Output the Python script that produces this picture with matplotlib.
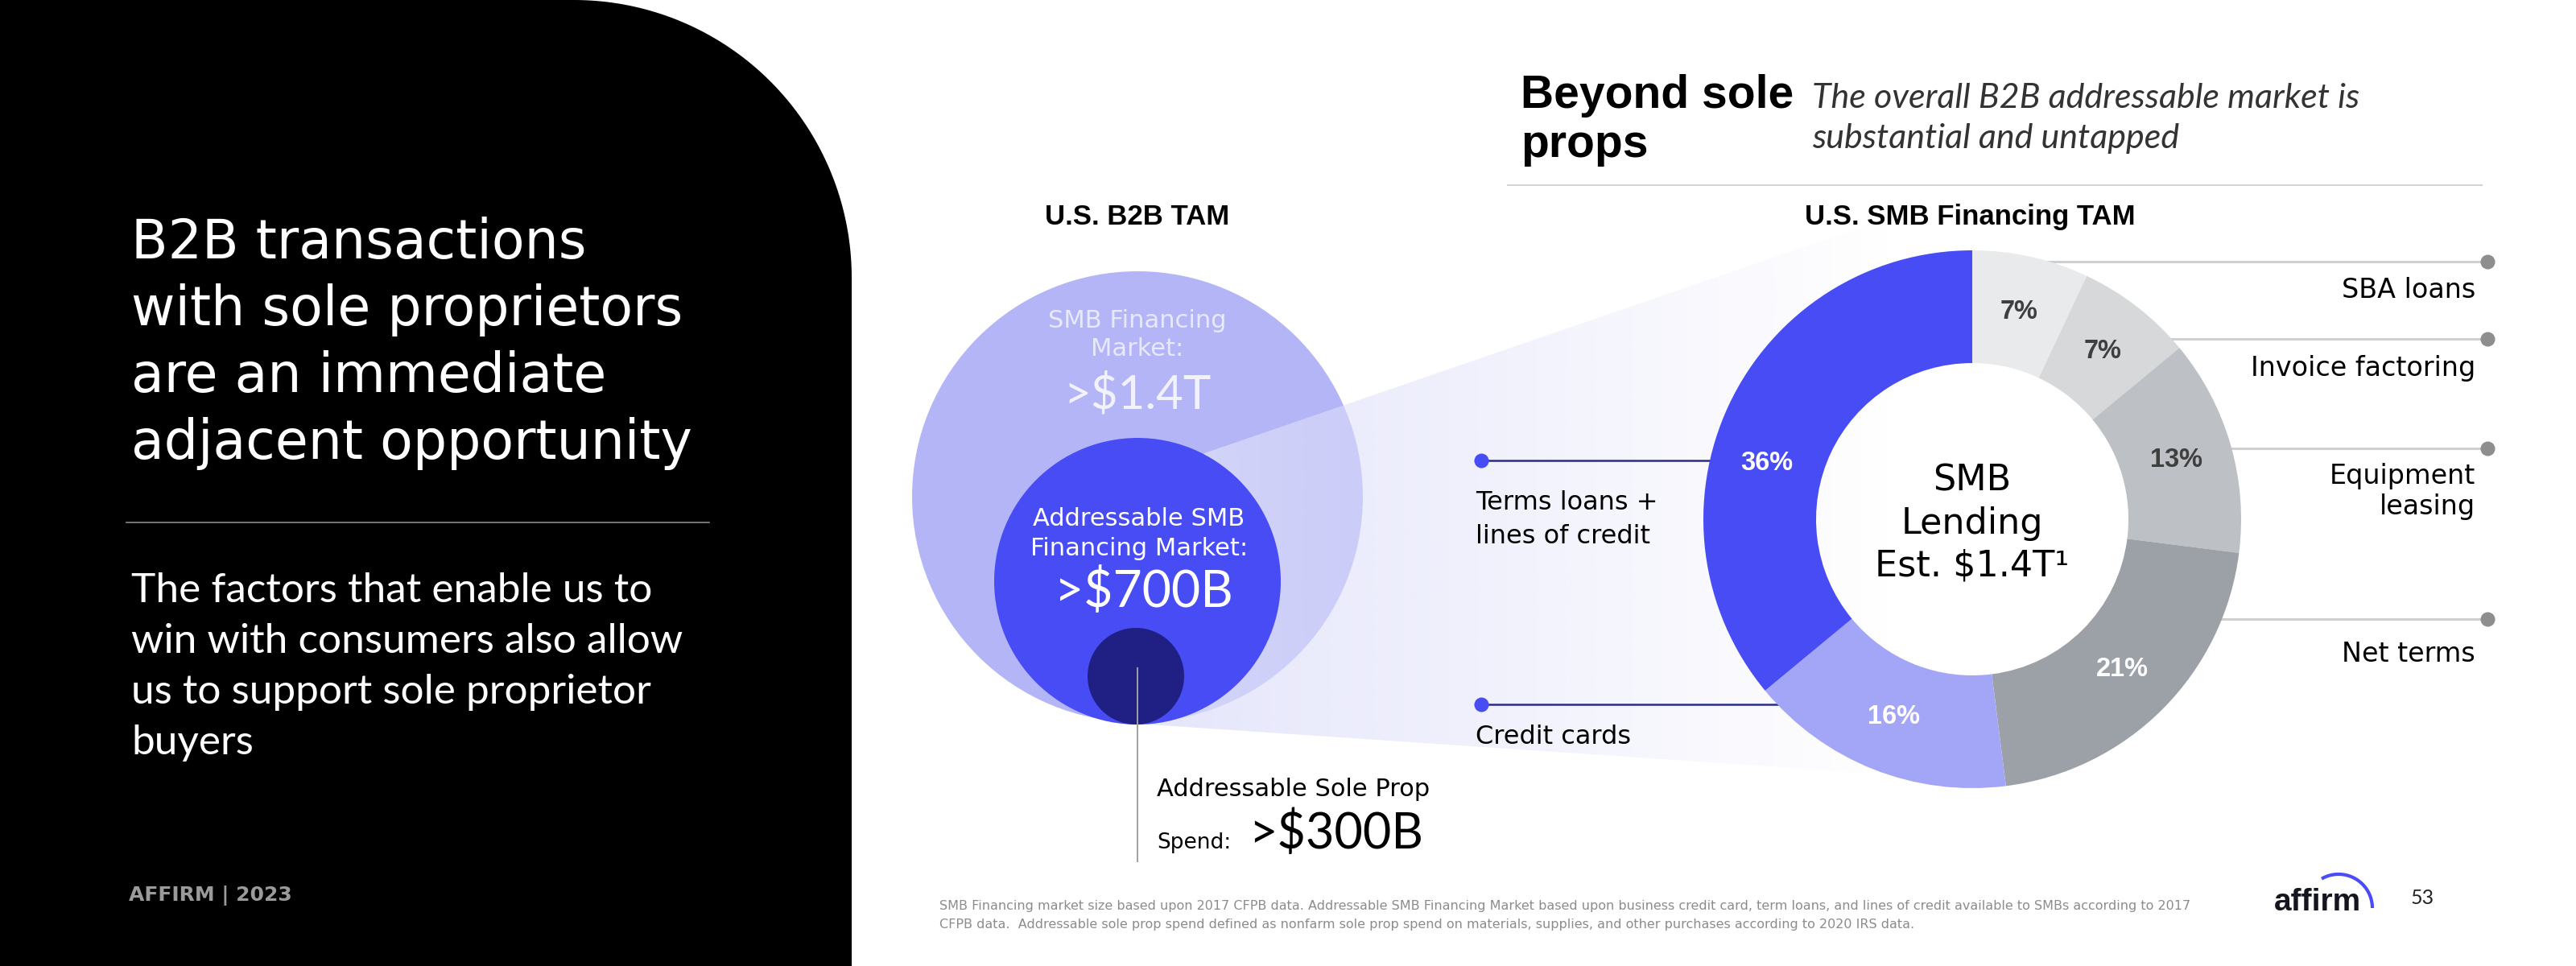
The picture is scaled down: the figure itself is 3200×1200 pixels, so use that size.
import numpy as np
import matplotlib
matplotlib.use("Agg")
import matplotlib.pyplot as plt
from matplotlib.patches import Circle, Polygon

# ---------------- data ----------------
left_title = ["B2B transactions", "with sole proprietors", "are an immediate", "adjacent opportunity"]
left_sub = ["The factors that enable us to", "win with consumers also allow",
            "us to support sole proprietor", "buyers"]
brand_line = "AFFIRM | 2023"
head_bold = ["Beyond sole", "props"]
head_italic = ["The overall B2B addressable market is", "substantial and untapped"]

tam_title = "U.S. B2B TAM"
tam_labels = [["SMB Financing", "Market:"], ["Addressable SMB", "Financing Market:"], ["Addressable Sole Prop"]]
tam_values = [">$1.4T", ">$700B", ">$300B"]
spend_word = "Spend:"

donut_title = "U.S. SMB Financing TAM"
segments = ["SBA loans", "Invoice factoring", "Equipment\nleasing", "Net terms",
            "Credit cards", "Terms loans +\nlines of credit"]
shares = [7, 7, 13, 21, 16, 36]
seg_colors = ["#E9EAEB", "#D6D8DA", "#BDC1C5", "#9CA1A8", "#A3A5F6", "#484CF4"]
pct_colors = ["#3F3F3F", "#3F3F3F", "#3F3F3F", "#FFFFFF", "#FFFFFF", "#FFFFFF"]
center_lines = ["SMB", "Lending", "Est. $1.4T\u00b9"]

footnote = ["SMB Financing market size based upon 2017 CFPB data. Addressable SMB Financing Market based upon business credit card, term loans, and lines of credit available to SMBs according to 2017",
            "CFPB data.  Addressable sole prop spend defined as nonfarm sole prop spend on materials, supplies, and other purchases according to 2020 IRS data."]
logo_text = "affirm"
page_no = "53"

# ---------------- layout (pixel coords, y measured from top) ----------------
W, H = 3200, 1200
def Y(y):
    return H - y

BODY = ["DejaVu Sans"]
HEAD = ["Liberation Sans", "DejaVu Sans"]
LIGHT = ["Lato", "DejaVu Sans"]

fig = plt.figure(figsize=(32, 12), dpi=100)
fig.patch.set_facecolor("white")
ax = fig.add_axes([0, 0, 1, 1])

# ---- black panel with rounded top-right corner
px_r, rad = 1058, 345
t = np.linspace(0, np.pi / 2, 80)
arc = [(px_r - rad + rad * np.sin(a), Y(rad - rad * np.cos(a))) for a in t]
panel = [(0, Y(0))] + arc + [(px_r, Y(H)), (0, Y(H))]
ax.add_patch(Polygon(panel, closed=True, facecolor="black", edgecolor="none", zorder=1))

for i, line in enumerate(left_title):
    ax.text(163, Y(321 + 83 * i), line, color="white", fontsize=48, family=BODY,
            va="baseline", ha="left", zorder=3)
ax.plot([157, 881], [Y(649), Y(649)], color="#8A8A8A", lw=1.2, zorder=3)
for i, line in enumerate(left_sub):
    ax.text(163, Y(748 + 63 * i), line, color="white", fontsize=37, family=LIGHT,
            va="baseline", ha="left", zorder=3)
ax.text(160, Y(1119), brand_line, color="#9A9A9A", fontsize=18, family=BODY,
        weight="bold", va="baseline", ha="left", zorder=3)

# ---- header on the right
ax.text(1889, Y(134), head_bold[0], fontsize=41, family=HEAD, weight="bold",
        color="black", va="baseline")
ax.text(1889, Y(195), head_bold[1], fontsize=41, family=HEAD, weight="bold",
        color="black", va="baseline")
ax.text(2251, Y(134), head_italic[0], fontsize=31, family=LIGHT, style="italic",
        color="#333333", va="baseline")
ax.text(2251, Y(184), head_italic[1], fontsize=31, family=LIGHT, style="italic",
        color="#333333", va="baseline")
ax.plot([1873, 3083], [Y(230), Y(230)], color="#D3D3D3", lw=1.5)

# ---- TAM bubbles
bcx = 1413
big = (bcx, 617, 280)
mid = (bcx, 722, 178)
small = (1411, 840, 60)
ax.add_patch(Circle((big[0], Y(big[1])), big[2], facecolor="#B3B5F6", edgecolor="none", zorder=2))

# funnel (gradient) from bubbles to donut
CX, CY, R, RW = 2450, 645, 334, 140
funnel = Polygon([(1496, Y(563)), (2450, Y(235)), (2450, Y(969)), (1413, Y(899))],
                 closed=True, facecolor="none", edgecolor="none")
ax.add_patch(funnel)
xs = np.linspace(1413, 2450, 600)
alpha = 0.8 * np.clip((2350 - xs) / (2350 - 1413), 0, 1)
grad = np.zeros((2, xs.size, 4))
grad[..., 0] = 222 / 255
grad[..., 1] = 223 / 255
grad[..., 2] = 250 / 255
grad[..., 3] = alpha[None, :]
im = ax.imshow(grad, extent=(1413, 2450, Y(969), Y(235)), origin="lower",
               aspect="auto", interpolation="bilinear", zorder=3)
im.set_clip_path(funnel)

ax.add_patch(Circle((mid[0], Y(mid[1])), mid[2], facecolor="#484CF4", edgecolor="none", zorder=4))
ax.add_patch(Circle((small[0], Y(small[1])), small[2], facecolor="#202084", edgecolor="none", zorder=5))

ax.text(bcx, Y(279), tam_title, fontsize=25, family=HEAD, weight="bold", ha="center",
        va="baseline", color="black", zorder=6)
ax.text(bcx, Y(407), tam_labels[0][0], fontsize=22, family=BODY, ha="center",
        va="baseline", color="#E8E9FD", zorder=6)
ax.text(bcx, Y(442), tam_labels[0][1], fontsize=22, family=BODY, ha="center",
        va="baseline", color="#E8E9FD", zorder=6)
ax.text(bcx, Y(507), tam_values[0], fontsize=42, family=LIGHT,
        ha="center", va="baseline", color="#F2F2FE", zorder=6)
ax.text(bcx + 2, Y(653), tam_labels[1][0], fontsize=22, family=BODY, ha="center",
        va="baseline", color="white", zorder=6)
ax.text(bcx + 2, Y(690), tam_labels[1][1], fontsize=22, family=BODY, ha="center",
        va="baseline", color="white", zorder=6)
ax.text(bcx + 8, Y(754), tam_values[1], fontsize=45, family=LIGHT,
        ha="center", va="baseline", color="white", zorder=6)
ax.plot([bcx, bcx], [Y(830), Y(1070)], color="#A0A0A0", lw=1.4, zorder=6)
ax.text(1437, Y(989), tam_labels[2][0], fontsize=22, family=BODY, ha="left",
        va="baseline", color="black", zorder=6)
ax.text(1437, Y(1054), spend_word, fontsize=19, family=BODY, ha="left",
        va="baseline", color="black", zorder=6)
ax.text(1551, Y(1054), tam_values[2], fontsize=44, family=LIGHT,
        ha="left", va="baseline", color="black", zorder=6)

# ---- donut
ax.text(CX - 3, Y(279), donut_title, fontsize=25, family=HEAD, weight="bold",
        ha="center", va="baseline", color="black", zorder=6)

label_lines = {
    "SBA loans": ("right", 325, [370]),
    "Invoice factoring": ("right", 421, [467]),
    "Equipment\nleasing": ("right", 557, [601, 639]),
    "Net terms": ("right", 769, [822]),
    "Credit cards": ("left", 875, [924]),
    "Terms loans +\nlines of credit": ("left", 572, [633, 675]),
}
for name in segments:
    side, ly, bases = label_lines[name]
    dy = CY - ly
    edge = np.sqrt(max(R ** 2 - dy ** 2, 0))
    lines = name.split("\n")
    if side == "right":
        x0 = CX + edge - 4
        ax.plot([x0, 3090], [Y(ly), Y(ly)], color="#CFCFCF", lw=2.2, zorder=6,
                solid_capstyle="butt")
        ax.plot([3090], [Y(ly)], marker="o", ms=13, color="#8E8E8E", mec="none", zorder=7)
        for ln, b in zip(lines, bases):
            ax.text(3075, Y(b), ln, fontsize=24, family=BODY, ha="right",
                    va="baseline", color="black", zorder=7)
    else:
        x1 = CX - edge + 4
        ax.plot([1840, x1], [Y(ly), Y(ly)], color="#2A2C8C", lw=1.8, zorder=6,
                solid_capstyle="butt")
        ax.plot([1840], [Y(ly)], marker="o", ms=13, color="#484CF4", mec="none", zorder=7)
        for ln, b in zip(lines, bases):
            ax.text(1833, Y(b), ln, fontsize=23, family=BODY, ha="left",
                    va="baseline", color="black", zorder=7)

wedges, _ = ax.pie(shares, colors=seg_colors, startangle=90, counterclock=False,
                   radius=R, center=(CX, Y(CY)),
                   wedgeprops=dict(width=RW, edgecolor="none"), frame=True)
for w in wedges:
    w.set_zorder(8)

label_angle_shift = [0, 0, 0, 0, 0, 10]
cum = 0
for s, c, sh in zip(shares, pct_colors, label_angle_shift):
    mid_ang = np.deg2rad(90 - (cum + s / 2) * 3.6 + sh)
    cum += s
    rr = R - RW / 2
    ax.text(CX + rr * np.cos(mid_ang), Y(CY) + rr * np.sin(mid_ang), f"{s}%",
            fontsize=23.5, family=HEAD, weight="bold", color=c, ha="center",
            va="center", zorder=9)

for i, ln in enumerate(center_lines):
    ax.text(CX, Y(610 + 53 * i), ln, fontsize=32, family=BODY, ha="center",
            va="baseline", color="black", zorder=9)

# ---- footer
for i, ln in enumerate(footnote):
    ax.text(1167, Y(1130 + 23 * i), ln, fontsize=11.5, family=BODY, ha="left",
            va="baseline", color="#8C8C8C", zorder=9)
ax.text(2825, Y(1131), logo_text, fontsize=28, family=HEAD, weight="bold",
        color="#15151F", ha="left", va="baseline", zorder=9)
ta = np.linspace(0, np.deg2rad(120), 60)
ax.plot(2905 + 42 * np.cos(ta), Y(1128) + 42 * np.sin(ta), color="#4A4DF5",
        lw=3, solid_capstyle="butt", zorder=9)
ax.text(2995, Y(1123), page_no, fontsize=18, family=LIGHT,
        color="#222222", ha="left", va="baseline", zorder=9)

ax.set_xlim(0, W)
ax.set_ylim(0, H)
ax.set_aspect("equal")
ax.set_position([0, 0, 1, 1])
ax.axis("off")
fig.savefig("out.png", dpi=100, facecolor="white")
